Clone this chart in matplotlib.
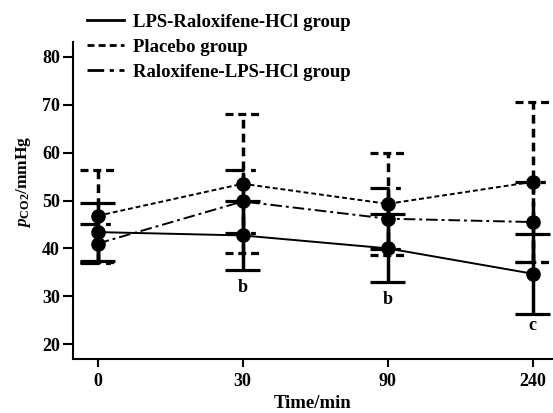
import matplotlib
matplotlib.use("Agg")
import matplotlib.pyplot as plt
import numpy as np

plt.rcParams['font.family'] = ['Liberation Serif', 'DejaVu Serif']
plt.rcParams['font.weight'] = 'bold'
plt.rcParams['mathtext.fontset'] = 'custom'
plt.rcParams['mathtext.rm'] = 'Liberation Serif:bold'
plt.rcParams['mathtext.it'] = 'Liberation Serif:italic:bold'
plt.rcParams['mathtext.bf'] = 'Liberation Serif:bold'

time_labels = ['0', '30', '90', '240']
groups = ['LPS-Raloxifene-HCl group', 'Placebo group', 'Raloxifene-LPS-HCl group']
lps_ral_mean = [43.4, 42.7, 40.0, 34.7]
lps_ral_sd = [6.1, 7.3, 7.1, 8.4]
placebo_mean = [46.8, 53.5, 49.3, 53.9]
placebo_sd = [9.6, 14.5, 10.7, 16.7]
ral_lps_mean = [41.0, 49.8, 46.2, 45.5]
ral_lps_sd = [4.1, 6.5, 6.4, 8.4]
sig_labels = ['', 'b', 'b', 'c']
sig_y = [0, 31.8, 29.3, 23.8]

fig = plt.figure(figsize=(5.53, 4.13), dpi=100)
ax = fig.add_axes([0.132, 0.131, 0.868, 0.767])

x = np.arange(len(time_labels))
series = [
    (lps_ral_mean, lps_ral_sd, '-', groups[0]),
    (placebo_mean, placebo_sd, (0, (2.5, 1.5)), groups[1]),
    (ral_lps_mean, ral_lps_sd, (0, (6, 2, 1.5, 2)), groups[2]),
]
capw = 0.12
for mean, sd, ls, lab in series:
    mean = np.array(mean); sd = np.array(sd)
    ax.plot(x, mean, color='black', linestyle=ls, linewidth=1.4, label=lab, zorder=3)
    ax.vlines(x, mean - sd, mean + sd, colors='black', linestyles=ls, linewidth=2.5, zorder=2)
    for yy in (mean - sd, mean + sd):
        ax.hlines(yy, x - capw, x + capw, colors='black', linestyles=ls, linewidth=2.3, zorder=2)
    ax.plot(x, mean, 'o', color='black', markersize=9.5, zorder=4)

for xi, s, yy in zip(x, sig_labels, sig_y):
    if s:
        ax.text(xi, yy, s, ha='center', va='center', fontsize=13, fontweight='bold')

ax.set_xlim(-0.17, 3.14)
ax.set_ylim(16.9, 83.1)
ax.set_xticks(x)
ax.set_xticklabels(time_labels)
ax.set_yticks([20, 30, 40, 50, 60, 70, 80])
ax.tick_params(axis='y', direction='out', length=7.5, width=1.5, labelsize=13, pad=2)
ax.tick_params(axis='x', direction='out', length=5.5, width=1.5, labelsize=13, pad=5)
for lbl in ax.get_xticklabels() + ax.get_yticklabels():
    lbl.set_fontweight('bold')
ax.spines['top'].set_visible(False)
ax.spines['right'].set_visible(False)
ax.spines['left'].set_linewidth(1.5)
ax.spines['bottom'].set_linewidth(1.5)

ax.set_xlabel('Time/min', fontsize=13.5, fontweight='bold', labelpad=3)
ax.set_ylabel(r'$p_{\mathrm{CO2}}$/mmHg', fontsize=12.5, fontweight='bold')
ax.yaxis.set_label_coords(-0.083, 0.558)

leg = ax.legend(loc='upper left', bbox_to_anchor=(-0.007, 1.143), frameon=False,
                handlelength=2.0, handletextpad=0.5, labelspacing=0.42,
                prop={'weight': 'bold', 'size': 13.5})
for h in leg.get_lines():
    h.set_linewidth(2)

fig.savefig('out.png', dpi=100)
